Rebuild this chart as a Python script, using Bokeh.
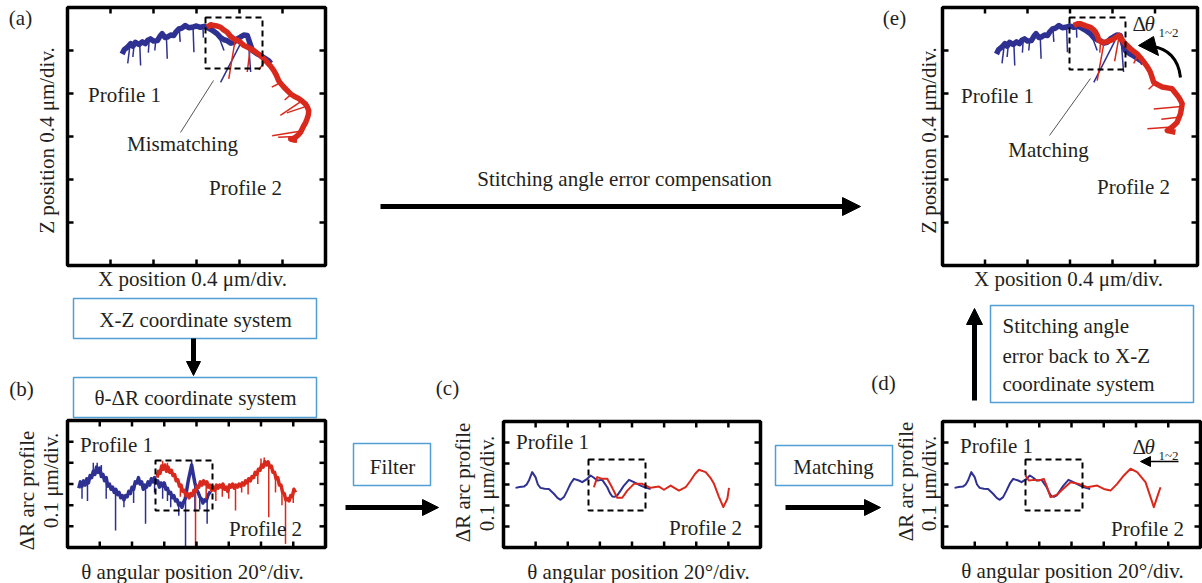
import math
from bokeh.plotting import figure
from bokeh.models import Range1d, Arrow, NormalHead
from bokeh.core.properties import value
from bokeh.embed import file_html
from bokeh.resources import INLINE

# ---------------- DATA (division units) ----------------
# (a) / (e): X-Z profiles, X and Z in divisions of 0.4 um/div (frame 0..6 x 0..6)
a_blue_x = [1.27, 1.32, 1.40, 1.47, 1.52, 1.58, 1.66, 1.74, 1.81, 1.87, 1.93, 2.00, 2.09, 2.15, 2.20,
            2.27, 2.32, 2.40, 2.47, 2.53, 2.59, 2.66, 2.74, 2.82, 2.90, 3.00, 3.09, 3.18, 3.25, 3.35,
            3.48, 3.56, 3.64, 3.71, 3.80, 3.87, 3.95, 4.02, 4.10, 4.18, 4.25, 4.30, 4.40, 4.49, 4.60,
            4.68, 4.73]
a_blue_z = [4.92, 5.02, 5.08, 5.16, 5.10, 5.19, 5.14, 5.20, 5.16, 5.24, 5.27, 5.22, 5.23, 5.33, 5.39,
            5.30, 5.31, 5.36, 5.35, 5.44, 5.50, 5.52, 5.58, 5.53, 5.54, 5.57, 5.54, 5.56, 5.54, 5.48,
            5.39, 5.30, 5.25, 5.23, 5.17, 5.19, 5.27, 5.31, 5.36, 5.35, 5.15, 5.00, 4.93, 4.88, 4.81,
            4.76, 4.70]
a_blue_spk_x0 = [1.45, 1.55, 1.68, 1.90, 2.05, 2.30, 2.60, 2.92, 3.15, 3.50, 4.06, 4.20]
a_blue_spk_z0 = [5.10, 5.15, 5.15, 5.25, 5.22, 5.32, 5.50, 5.54, 5.56, 5.37, 5.23, 5.30]
a_blue_spk_x1 = [1.40, 1.52, 1.70, 1.88, 2.03, 2.32, 2.62, 2.94, 3.16, 3.64, 3.56, 4.26]
a_blue_spk_z1 = [4.70, 4.85, 4.65, 4.95, 5.00, 4.81, 5.20, 4.96, 5.30, 5.00, 4.26, 4.50]

a_red_x = [3.25, 3.33, 3.40, 3.48, 3.56, 3.63, 3.71, 3.79, 3.87, 3.95, 4.02, 4.10, 4.18, 4.26, 4.33,
           4.41, 4.49, 4.57, 4.64, 4.72, 4.80, 4.86, 4.91, 4.97, 5.03, 5.11, 5.19, 5.28, 5.38, 5.46,
           5.53, 5.58, 5.61, 5.60, 5.57, 5.54, 5.50, 5.46, 5.42, 5.36, 5.30, 5.24, 5.19, 5.26, 5.34]
a_red_z = [5.54, 5.60, 5.58, 5.57, 5.54, 5.48, 5.43, 5.33, 5.27, 5.24, 5.19, 5.12, 5.08, 5.04, 5.00,
           4.94, 4.88, 4.80, 4.73, 4.64, 4.53, 4.42, 4.30, 4.22, 4.15, 4.07, 3.99, 3.93, 3.88, 3.82,
           3.76, 3.68, 3.60, 3.50, 3.41, 3.33, 3.26, 3.18, 3.10, 3.03, 2.98, 2.94, 2.94, 2.92, 2.91]
a_red_spk_x0 = [3.90, 4.25, 4.60, 4.95, 5.20, 5.45, 5.55, 5.40, 5.30]
a_red_spk_z0 = [5.25, 5.05, 4.76, 4.25, 3.98, 3.83, 3.70, 3.12, 3.00]
a_red_spk_x1 = [3.75, 4.18, 4.45, 4.75, 5.05, 4.95, 5.10, 4.76, 4.90]
a_red_spk_z1 = [4.34, 4.50, 4.55, 4.15, 3.85, 3.49, 3.55, 3.02, 2.98]

e_red_x = [3.09, 3.17, 3.25, 3.36, 3.48, 3.56, 3.60, 3.65, 3.68, 3.74, 3.80, 3.92, 4.03, 4.10, 4.15,
           4.21, 4.27, 4.35, 4.42, 4.50, 4.58, 4.66, 4.74, 4.82, 4.89, 4.93, 4.97, 5.07, 5.17, 5.29,
           5.40, 5.48, 5.56, 5.60, 5.64, 5.62, 5.60, 5.56, 5.52, 5.46, 5.40, 5.34, 5.29, 5.38, 5.48]
e_red_z = [5.58, 5.62, 5.62, 5.58, 5.54, 5.48, 5.43, 5.33, 5.23, 5.20, 5.19, 5.22, 5.27, 5.32, 5.35,
           5.27, 5.19, 5.11, 5.04, 4.98, 4.92, 4.83, 4.73, 4.62, 4.50, 4.38, 4.26, 4.20, 4.15, 4.13,
           4.11, 4.01, 3.91, 3.84, 3.76, 3.64, 3.53, 3.43, 3.33, 3.27, 3.22, 3.17, 3.14, 3.12, 3.10]
e_red_spk_x0 = [3.72, 3.80, 4.15, 4.60, 5.00, 5.62, 5.55, 5.40]
e_red_spk_z0 = [5.20, 5.19, 5.30, 4.90, 4.24, 3.70, 3.45, 3.22]
e_red_spk_x1 = [3.70, 3.64, 4.05, 4.50, 4.85, 4.97, 5.15, 4.82]
e_red_spk_z1 = [4.95, 4.30, 4.75, 4.70, 4.10, 3.64, 3.40, 3.18]

# (b): raw theta-dR profiles, theta in 20 deg/div (0..8), dR in 0.1 um/div (0..6)
b_blue_t = [0.35, 0.40, 0.45, 0.50, 0.55, 0.60, 0.65, 0.70, 0.75, 0.80, 0.85, 0.90, 0.95, 1.00, 1.05,
            1.10, 1.15, 1.20, 1.25, 1.30, 1.35, 1.40, 1.45, 1.50, 1.55, 1.60, 1.65, 1.70, 1.75, 1.80,
            1.85, 1.90, 1.95, 2.00, 2.05, 2.10, 2.15, 2.20, 2.25, 2.30, 2.35, 2.40, 2.45, 2.50, 2.55,
            2.60, 2.65, 2.70, 2.75, 2.80, 2.85, 2.90, 2.95, 3.00, 3.05, 3.10, 3.15, 3.20, 3.25, 3.30,
            3.35, 3.40, 3.45, 3.50, 3.55, 3.60, 3.65, 3.70, 3.75, 3.80, 3.85, 3.90, 3.95, 4.00, 4.05,
            4.10, 4.15, 4.20, 4.25, 4.30, 4.35, 4.43]
b_blue_r = [2.80, 3.10, 2.90, 3.15, 2.95, 3.25, 3.05, 3.40, 3.30, 3.60, 3.45, 3.80, 3.55, 3.75, 3.35,
            3.45, 3.15, 3.30, 2.90, 3.00, 2.75, 2.85, 2.60, 2.75, 2.50, 2.60, 2.35, 2.45, 2.25, 2.45,
            2.40, 2.65, 2.55, 2.85, 2.75, 3.10, 3.05, 3.30, 3.00, 3.10, 2.75, 2.95, 2.85, 3.10, 2.95,
            3.25, 3.10, 3.30, 3.05, 3.15, 2.85, 3.05, 2.90, 3.05, 2.75, 2.80, 2.55, 2.60, 2.35, 2.45,
            2.20, 2.25, 2.00, 2.10, 1.90, 2.15, 2.30, 2.75, 3.20, 3.55, 3.90, 3.45, 3.05, 2.75, 2.60,
            2.40, 2.30, 2.10, 2.25, 2.20, 2.45, 2.65]
b_blue_spk_t = [0.45, 0.62, 0.80, 0.92, 1.05, 1.20, 1.49, 1.75, 2.05, 2.42, 2.70, 2.95, 3.10, 3.20,
                3.45, 3.66, 3.85, 3.95, 4.10, 4.33]
b_blue_spk_r0 = [2.90, 3.10, 3.60, 3.70, 3.40, 3.20, 2.65, 2.30, 2.80, 2.85, 3.30, 2.90, 2.80, 2.60,
                 2.10, 2.30, 3.80, 3.00, 2.40, 2.30]
b_blue_spk_r1 = [2.30, 2.20, 4.00, 4.00, 3.90, 2.30, 0.80, 1.90, 2.10, 1.12, 2.60, 2.30, 2.20, 1.90,
                 1.50, 0.00, 4.15, 1.70, 1.80, 1.12]

b_red_t = [2.78, 2.82, 2.87, 2.92, 2.97, 3.02, 3.07, 3.12, 3.17, 3.22, 3.27, 3.32, 3.37, 3.42, 3.47,
           3.52, 3.57, 3.62, 3.67, 3.72, 3.77, 3.82, 3.87, 3.92, 3.97, 4.02, 4.07, 4.12, 4.17, 4.22,
           4.27, 4.32, 4.37, 4.42, 4.47, 4.52, 4.57, 4.62, 4.67, 4.72, 4.77, 4.82, 4.87, 4.92, 4.97,
           5.02, 5.07, 5.12, 5.17, 5.22, 5.27, 5.32, 5.37, 5.42, 5.47, 5.52, 5.57, 5.62, 5.67, 5.72,
           5.77, 5.82, 5.87, 5.92, 5.97, 6.02, 6.07, 6.12, 6.17, 6.22, 6.27, 6.32, 6.37, 6.42, 6.47,
           6.52, 6.57, 6.62, 6.67, 6.72, 6.77, 6.82, 6.87, 6.92, 6.97, 7.02, 7.07]
b_red_r = [3.30, 3.60, 3.50, 3.85, 3.70, 3.90, 3.60, 3.80, 3.55, 3.65, 3.40, 3.45, 3.15, 3.20, 2.90,
           2.95, 2.65, 2.70, 2.45, 2.55, 2.35, 2.55, 2.45, 2.70, 2.65, 2.90, 2.85, 3.10, 2.95, 3.15,
           3.00, 3.10, 2.85, 2.95, 2.70, 2.85, 2.70, 2.95, 2.80, 2.95, 2.85, 3.00, 2.75, 2.85, 2.65,
           2.95, 2.85, 3.00, 2.80, 2.95, 2.85, 3.00, 2.90, 3.05, 2.95, 3.15, 3.05, 3.25, 3.15, 3.35,
           3.30, 3.55, 3.45, 3.70, 3.65, 3.90, 3.80, 4.05, 3.90, 4.05, 3.80, 3.85, 3.55, 3.55, 3.25,
           3.30, 2.95, 2.95, 2.60, 2.55, 2.25, 2.30, 2.20, 2.45, 2.40, 2.75, 2.60]
b_red_spk_t = [2.95, 3.10, 3.50, 3.97, 4.30, 4.60, 4.80, 5.00, 5.21, 5.40, 5.60, 5.90, 6.00, 6.10,
               6.24, 6.45, 6.65, 6.76, 7.00]
b_red_spk_r0 = [3.70, 3.70, 2.90, 2.70, 3.00, 2.80, 2.85, 2.90, 2.90, 3.00, 3.20, 3.60, 3.90, 3.90,
                3.90, 3.40, 2.60, 2.30, 2.70]
b_red_spk_r1 = [4.10, 4.00, 2.40, 0.00, 2.30, 2.20, 2.40, 2.30, 1.75, 2.60, 2.50, 3.00, 4.20, 4.25,
                1.43, 2.60, 2.00, 0.17, 2.10]

# (c) / (d): filtered profiles
c_blue_t = [0.374, 0.50, 0.634, 0.72, 0.790, 0.893, 0.997, 1.07, 1.153, 1.28, 1.413, 1.568, 1.68, 1.776,
            1.88, 1.984, 2.09, 2.191, 2.347, 2.451, 2.607, 2.711, 2.815, 2.918, 3.074, 3.230, 3.31,
            3.386, 3.47, 3.541, 3.65, 3.749, 3.905, 4.061, 4.268, 4.42, 4.580]
c_blue_r = [2.84, 2.88, 2.90, 3.00, 3.19, 3.59, 3.35, 3.00, 2.84, 2.80, 2.79, 2.56, 2.36, 2.27,
            2.40, 2.71, 3.05, 3.27, 3.19, 3.11, 3.27, 3.43, 3.32, 3.19, 3.22, 2.87, 2.60,
            2.43, 2.42, 2.48, 2.72, 2.95, 3.22, 3.11, 2.95, 2.85, 2.79]
c_red_t = [2.815, 2.918, 3.074, 3.230, 3.386, 3.48, 3.541, 3.697, 3.853, 4.061, 4.320, 4.580, 4.839, 4.995,
           5.203, 5.462, 5.670, 5.826, 5.96, 6.085, 6.293, 6.45, 6.553, 6.709, 6.843, 6.968, 7.020]
c_red_r = [2.87, 3.35, 3.27, 3.27, 2.84, 2.55, 2.37, 2.37, 2.71, 3.03, 3.03, 2.84, 2.90, 2.75,
           2.95, 2.71, 2.87, 3.19, 3.50, 3.70, 3.59, 3.30, 3.03, 2.40, 1.92, 2.32, 2.84]
d_red_t = [2.574, 2.677, 2.832, 2.987, 3.142, 3.245, 3.349, 3.556, 3.711, 3.969, 4.227, 4.486, 4.796,
           5.003, 5.210, 5.416, 5.623, 5.830, 6.036, 6.295, 6.450, 6.553, 6.656, 6.760]
d_red_r = [3.43, 3.19, 3.22, 3.19, 3.27, 2.87, 2.40, 2.52, 2.75, 3.11, 3.03, 2.87, 2.95,
           2.79, 2.71, 3.03, 3.43, 3.75, 3.59, 3.11, 2.40, 1.92, 2.40, 2.87]

# ---------------- STYLE / LAYOUT ----------------
W, H = 1202, 583
BLUE = "#2e3192"
RED = "#d9291c"
INK = "#231f20"
BOXC = "#4f9fd6"
FONT = "Liberation Serif"
FS = "21px"

p = figure(width=W, height=H, x_range=Range1d(0, W), y_range=Range1d(H, 0),
           x_axis_type=None, y_axis_type=None, output_backend="svg",
           toolbar_location=None, min_border=0)
p.grid.visible = False
p.outline_line_color = None
p.background_fill_color = "white"
p.border_fill_color = "white"


def mapper(left, top, w, h, nx, ny):
    def tx(v):
        return [left + a / nx * w for a in v]

    def ty(v):
        return [top + h - a / ny * h for a in v]
    return tx, ty


def frame(left, top, w, h, nx, ny):
    p.quad(left=[left], right=[left + w], top=[top], bottom=[top + h],
           fill_color=None, line_color="black", line_width=3.5)
    tl = 6
    xs, ys = [], []
    for i in range(1, nx):
        cx = left + i * w / nx
        xs += [[cx, cx], [cx, cx]]
        ys += [[top + h, top + h - tl], [top, top + tl]]
    for j in range(1, ny):
        cy = top + h - j * h / ny
        xs += [[left, left + tl], [left + w, left + w - tl]]
        ys += [[cy, cy], [cy, cy]]
    p.multi_line(xs, ys, line_color="black", line_width=2.5)


def trace(tx, ty, xs, ys, color, lw):
    p.line(tx(xs), ty(ys), line_color=color, line_width=lw, line_join="round")


def spikes(tx, ty, x0, y0, x1, y1, color, lw=1.5):
    p.segment(x0=tx(x0), y0=ty(y0), x1=tx(x1), y1=ty(y1), line_color=color, line_width=lw)


def txt(x, y, s, size=FS, angle=0.0, align="center", italic=False):
    p.text(x=[x], y=[y], text=[s], text_font=value(FONT), text_font_size=size,
           text_align=align, text_baseline="middle", angle=angle, text_color=INK,
           text_font_style="italic" if italic else "normal")


def dbox(l, t, r, b):
    p.quad(left=[l], right=[r], top=[t], bottom=[b], fill_color=None,
           line_color="black", line_width=2, line_dash="6 4")


def bbox(l, t, r, b):
    p.quad(left=[l], right=[r], top=[t], bottom=[b], fill_color="white",
           line_color=BOXC, line_width=1.5)


def arrow(x0, y0, x1, y1, lw=5, size=16):
    p.add_layout(Arrow(end=NormalHead(size=size, fill_color="black", line_color="black"),
                       x_start=x0, y_start=y0, x_end=x1, y_end=y1,
                       line_width=lw, line_color="black"))


def delta_theta(x, y):
    txt(x, y, "Δ", align="left")
    txt(x + 12, y, "θ", align="left", italic=True)
    txt(x + 26, y + 9, "1~2", size="13px", align="left")


# ---- panel (a)
A = (67, 7, 258, 258, 6, 6)
tx, ty = mapper(*A)
spikes(tx, ty, a_blue_spk_x0, a_blue_spk_z0, a_blue_spk_x1, a_blue_spk_z1, BLUE)
trace(tx, ty, a_blue_x, a_blue_z, BLUE, 5.5)
spikes(tx, ty, a_red_spk_x0, a_red_spk_z0, a_red_spk_x1, a_red_spk_z1, RED)
trace(tx, ty, a_red_x, a_red_z, RED, 5.5)
frame(*A)
dbox(205, 17, 262, 68)
p.line([180, 213], [132, 80], line_color="#555555", line_width=1)
txt(20, 17, "(a)")
txt(46, 140, "Z position 0.4 μm/div.", angle=math.pi / 2)
txt(192, 278, "X position 0.4 μm/div.")
txt(124, 94, "Profile 1")
txt(182, 143, "Mismatching")
txt(245, 187, "Profile 2")

# ---- panel (e)
E = (942, 7, 255, 258, 6, 6)
tx, ty = mapper(*E)
spikes(tx, ty, a_blue_spk_x0, a_blue_spk_z0, a_blue_spk_x1, a_blue_spk_z1, BLUE)
trace(tx, ty, a_blue_x, a_blue_z, BLUE, 5.5)
spikes(tx, ty, e_red_spk_x0, e_red_spk_z0, e_red_spk_x1, e_red_spk_z1, RED)
trace(tx, ty, e_red_x, e_red_z, RED, 5.5)
frame(*E)
dbox(1069, 17, 1125, 69)
p.line([1049, 1090], [135, 78], line_color="#555555", line_width=1)
p.bezier(x0=[1180], y0=[77], x1=[1152], y1=[46], cx0=[1178], cy0=[58], cx1=[1167], cy1=[48],
         line_color="black", line_width=3)
p.patch([1138, 1153, 1158], [45, 36, 55], fill_color="black", line_color="black")
txt(894, 17, "(e)")
txt(928, 140, "Z position 0.4 μm/div.", angle=math.pi / 2)
txt(1068, 278, "X position 0.4 μm/div.")
txt(997, 95, "Profile 1")
txt(1048, 149, "Matching")
txt(1133, 186, "Profile 2")
delta_theta(1132, 23)

# ---- middle arrow
txt(624, 178, "Stitching angle error compensation")
arrow(380, 206, 860, 206, lw=5, size=18)

# ---- panel (b)
bbox(73, 298, 316, 338)
txt(195, 319, "X-Z coordinate system")
arrow(193, 338, 193, 375, lw=5, size=14)
bbox(73, 377, 316, 417)
txt(195, 397, "θ-ΔR coordinate system")
B = (67, 420, 258, 127, 8, 6)
tx, ty = mapper(*B)
spikes(tx, ty, b_blue_spk_t, b_blue_spk_r0, b_blue_spk_t, b_blue_spk_r1, BLUE)
trace(tx, ty, b_blue_t, b_blue_r, BLUE, 3.5)
spikes(tx, ty, b_red_spk_t, b_red_spk_r0, b_red_spk_t, b_red_spk_r1, RED)
trace(tx, ty, b_red_t, b_red_r, RED, 3.5)
frame(*B)
dbox(155, 460, 212, 510)
txt(21, 388, "(b)")
txt(26, 490, "ΔR arc profile", angle=math.pi / 2)
txt(50, 480, "0.1 μm/div.", angle=math.pi / 2)
txt(116, 444, "Profile 1")
txt(265, 528, "Profile 2")
txt(192, 571, "θ angular position 20°/div.")

# ---- panel (c)
bbox(353, 443, 430, 485)
txt(392, 466, "Filter")
arrow(345, 507, 438, 507, lw=5, size=16)
C = (503, 421, 257, 126, 8, 6)
tx, ty = mapper(*C)
trace(tx, ty, c_blue_t, c_blue_r, BLUE, 2)
trace(tx, ty, c_red_t, c_red_r, RED, 2)
frame(*C)
dbox(588, 459, 645, 510)
txt(447, 387, "(c)")
txt(462, 482, "ΔR arc profile", angle=math.pi / 2)
txt(486, 483, "0.1 μm/div.", angle=math.pi / 2)
txt(552, 441, "Profile 1")
txt(705, 527, "Profile 2")
txt(638, 571, "θ angular position 20°/div.")

# ---- panel (d)
bbox(775, 445, 892, 485)
txt(833, 466, "Matching")
arrow(785, 507, 880, 507, lw=5, size=16)
arrow(974, 400, 974, 308, lw=5, size=16)
bbox(990, 305, 1193, 402)
txt(1002, 325, "Stitching angle", align="left")
txt(1002, 355, "error back to X-Z", align="left")
txt(1002, 383, "coordinate system", align="left")
D = (942, 421, 258, 126, 8, 6)
tx, ty = mapper(*D)
trace(tx, ty, c_blue_t, c_blue_r, BLUE, 2)
trace(tx, ty, d_red_t, d_red_r, RED, 2)
frame(*D)
dbox(1025, 459, 1082, 510)
txt(883, 382, "(d)")
txt(905, 481, "ΔR arc profile", angle=math.pi / 2)
txt(928, 483, "0.1 μm/div.", angle=math.pi / 2)
txt(996, 445, "Profile 1")
txt(1147, 528, "Profile 2")
txt(1072, 570, "θ angular position 20°/div.")
delta_theta(1132, 446)
arrow(1178, 461, 1140, 461, lw=1.5, size=10)

open("out.html", "w").write(file_html(p, INLINE))
